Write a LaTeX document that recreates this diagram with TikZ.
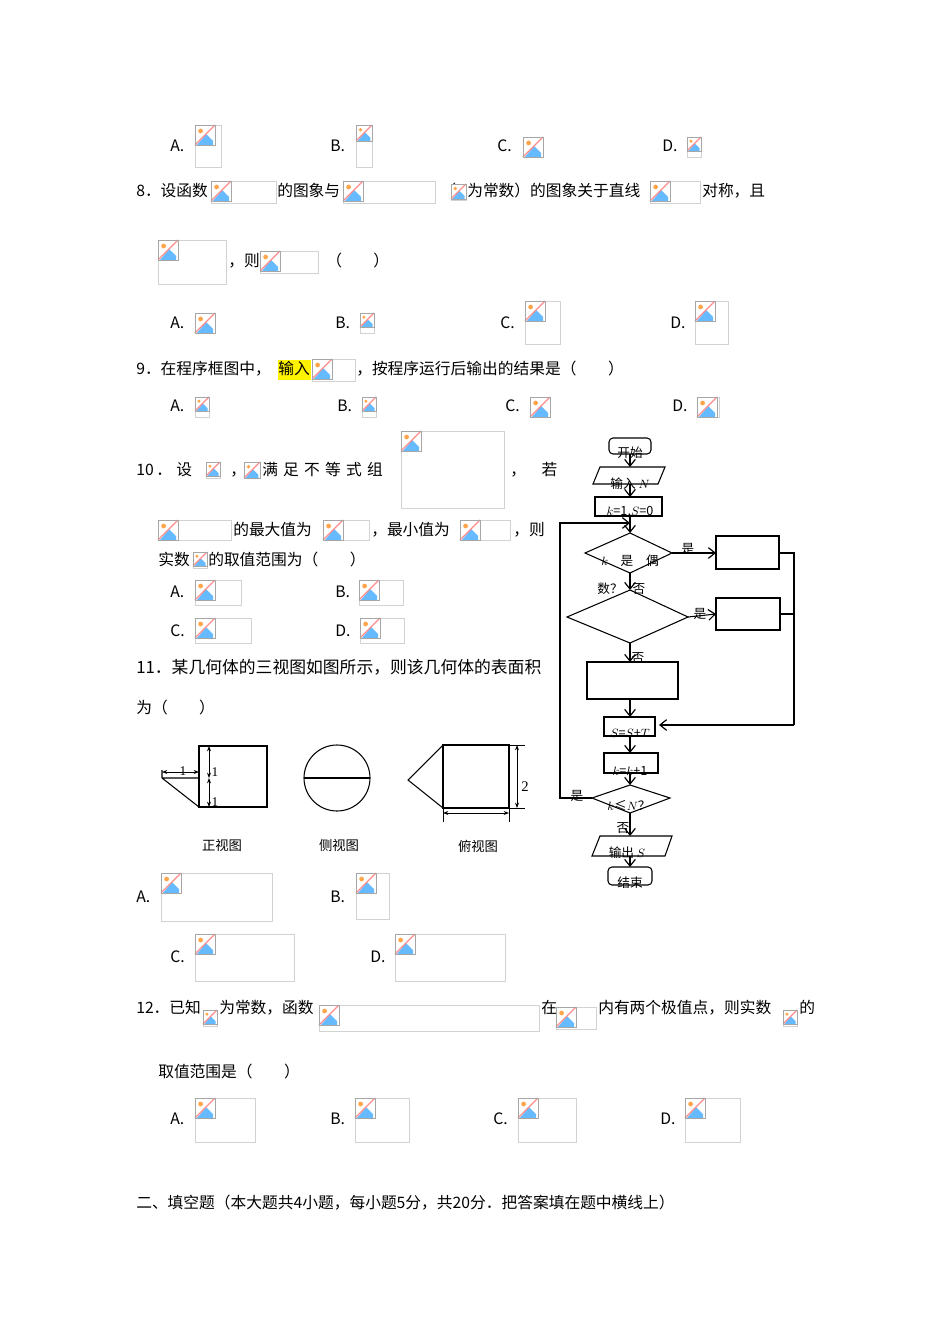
\documentclass[tikz,border=0pt]{standalone}
\usepackage{fontspec}
\newfontfamily\cjk{Noto Sans CJK SC}
\setmainfont{Liberation Serif}
\usetikzlibrary{arrows.meta,shapes.geometric}
\tikzset{
 tx/.style={anchor=base west,inner sep=0pt,font=\cjk\fontsize{11.8}{12}\selectfont},
 fc/.style={inner sep=0pt,font=\cjk\fontsize{9.5}{10}\selectfont},
 ln/.style={draw,line width=0.8pt},
 ar/.style={ln,-{Straight Barb[length=5pt,width=8pt,line width=0.9pt]}},
 dim/.style={line width=0.6pt,{Stealth[length=4pt]}-{Stealth[length=4pt]}},
}
\newcommand\phicon[3]{%
 \fill[white] (#1,#2) rectangle +(#3,#3);
 \fill[blue!45!cyan!60] (#1+0.1*#3,#2+#3) -- (#1+0.55*#3,#2+0.45*#3) -- (#1+0.9*#3,#2+0.8*#3) -- (#1+0.9*#3,#2+#3) -- cycle;
 \fill[orange!70] (#1+0.28*#3,#2+0.3*#3) circle (0.12*#3);
 \draw[red!45,line width=0.9pt] (#1,#2+#3) -- (#1+#3,#2);
 \draw[gray!70,line width=0.5pt] (#1,#2) rectangle +(#3,#3);}
\newcommand\ph[4]{%
 \draw[gray!35,line width=0.5pt] (#1,#2) rectangle +(#3,#4);
 \pgfmathsetmacro\phs{min(#3,min(#4,20))}%
 \phicon{#1}{#2}{\phs}}
\begin{document}
\begin{tikzpicture}[x=0.75pt,y=-0.75pt]
\useasboundingbox (0,0) rectangle (950,1344);
\fill[white] (0,0) rectangle (950,1344);
% row A-D
\node[tx] (a1) at (170,152) {A.}; \ph{195}{125}{26}{42}
\node[tx] (b1) at (330,152) {B.}; \ph{356}{125}{16}{42}
\node[tx] (c1) at (497,152) {C.}; \ph{523}{137}{20}{20}
\node[tx] (d1) at (662,152) {D.}; \ph{687}{137}{14}{20}
% Q8
\node[tx] (q8a) at (136,197) {8．设函数}; \ph{211}{181}{65}{22}
\node[tx] (q8b) at (277,197) {的图象与}; \ph{343}{181}{92}{22}
\node[tx] (q8c) at (440,197) {（}; \ph{451}{184}{15}{16}
\node[tx] (q8d) at (467,197) {为常数）的图象关于直线}; \ph{650}{181}{50}{22}
\node[tx] (q8e) at (702,197) {对称，且};
\ph{158}{240}{68}{44}
\node[tx] (q8f) at (228,267) {，则}; \ph{260}{251}{58}{22}
\node[tx] (q8g) at (326,267) {（　　）};
\node[tx] (a2) at (170,328) {A.}; \ph{195}{313}{20}{20}
\node[tx] (b2) at (335,328) {B.}; \ph{360}{313}{14}{20}
\node[tx] (c2) at (500,328) {C.}; \ph{525}{301}{35}{43}
\node[tx] (d2) at (670,328) {D.}; \ph{695}{301}{33}{43}
% Q9
\node[tx] (q9a) at (136,374) {9．在程序框图中，};
\fill[yellow] (278,360) rectangle (311,380);
\node[tx] (q9b) at (278,374) {输入}; \ph{312}{359}{43}{22}
\node[tx] (q9c) at (356,374) {，按程序运行后输出的结果是（　　）};
\node[tx] (a3) at (170,411) {A.}; \ph{195}{397}{14}{20}
\node[tx] (b3) at (337,411) {B.}; \ph{362}{397}{14}{20}
\node[tx] (c3) at (505,411) {C.}; \ph{530}{397}{20}{20}
\node[tx] (d3) at (672,411) {D.}; \ph{697}{397}{22}{20}
% Q10
\node[tx] (q10a) at (136,475) {10\,．\;设}; \ph{206}{462}{14}{16}
\node[tx] (q10b) at (230,475) {，}; \ph{244}{462}{16}{16}
\node[tx] (q10c) at (262,475) {满\,\,足\,\,不\,\,等\,\,式\,\,组}; \ph{401}{431}{103}{77}
\node[tx] (q10d) at (510,475) {，\quad 若};
\ph{158}{520}{73}{20}
\node[tx] (q10e) at (233,535) {的最大值为}; \ph{323}{520}{46}{20}
\node[tx] (q10f) at (371,535) {，最小值为}; \ph{460}{520}{50}{20}
\node[tx] (q10g) at (513,535) {，则};
\node[tx] (q10h) at (158,565) {实数}; \ph{193}{552}{14}{16}
\node[tx] (q10i) at (208,565) {的取值范围为（　　）};
\node[tx] (a4) at (170,597) {A.}; \ph{195}{580}{46}{25}
\node[tx] (b4) at (335,597) {B.}; \ph{359}{580}{44}{25}
\node[tx] (c4) at (170,636) {C.}; \ph{195}{618}{56}{25}
\node[tx] (d4) at (335,636) {D.}; \ph{360}{618}{44}{25}
% Q11
\node[tx,font=\cjk\fontsize{12.6}{13}\selectfont] (q11a) at (136,673) {11．某几何体的三视图如图所示，则该几何体的表面积};
\node[tx] (q11b) at (136,713) {为（　　）};
% front view
\draw[ln] (199,746) rectangle (267,807);
\draw[ln] (162,778) -- (199,778) (162,778) -- (199,807) (162,770) -- (162,778);
\draw[dim] (162,772) -- (199,772);
\draw[dim] (209,746) -- (209,778);
\draw[dim] (209,778) -- (209,807);
\node[fc,font=\fontsize{10}{10}\selectfont] (f1) at (183,771) {1};
\node[fc,font=\fontsize{10}{10}\selectfont] (f2) at (215,772) {1};
\node[fc,font=\fontsize{10}{10}\selectfont] (f3) at (215,802) {1};
% side view
\draw[ln] (337,778) circle (33);
\draw[ln] (304,778) -- (370,778);
% top view
\draw[ln] (443,745) rectangle (509,808);
\draw[ln] (443,745) -- (408,780) -- (443,808);
\draw[line width=0.5pt] (509,745) -- (525,745) (509,808) -- (525,808) (443,808) -- (443,822) (509,808) -- (509,822);
\draw[dim] (517,745) -- (517,808);
\draw[dim] (443,813) -- (509,813);
\node[fc,font=\fontsize{11}{11}\selectfont] (f4) at (525,787) {2};
\node[fc,font=\cjk\fontsize{10}{10}\selectfont] (v1) at (222,845) {正视图};
\node[fc,font=\cjk\fontsize{10}{10}\selectfont] (v2) at (339,845) {侧视图};
\node[fc,font=\cjk\fontsize{10}{10}\selectfont] (v3) at (478,846) {俯视图};
\node[tx] (a5) at (136,902) {A.}; \ph{161}{873}{111}{48}
\node[tx] (b5) at (330,902) {B.}; \ph{356}{873}{33}{46}
\node[tx] (c5) at (170,962) {C.}; \ph{195}{934}{99}{47}
\node[tx] (d5) at (370,962) {D.}; \ph{395}{934}{110}{47}
% Q12
\node[tx] (q12a) at (136,1013) {12．已知}; \ph{203}{1010}{14}{16}
\node[tx] (q12b) at (219,1013) {为常数，函数}; \ph{319}{1005}{220}{26}
\node[tx] (q12c) at (541,1013) {在}; \ph{556}{1007}{40}{22}
\node[tx] (q12d) at (598,1013) {内有两个极值点，则实数}; \ph{783}{1010}{14}{16}
\node[tx] (q12e) at (799,1013) {的};
\node[tx] (q12f) at (158,1077) {取值范围是（　　）};
\node[tx] (a6) at (170,1124) {A.}; \ph{195}{1098}{60}{44}
\node[tx] (b6) at (330,1124) {B.}; \ph{355}{1098}{54}{44}
\node[tx] (c6) at (493,1124) {C.}; \ph{518}{1098}{58}{44}
\node[tx] (d6) at (660,1124) {D.}; \ph{685}{1098}{55}{44}
\node[tx] (s2) at (136,1208) {二、填空题（本大题共4小题，每小题5分，共20分．把答案填在题中横线上）};
% flowchart
\draw[ln,rounded corners=3pt] (609,438) rectangle (651,454);
\draw[ln] (600,467) -- (665,467) -- (658,484) -- (593,484) -- cycle;
\draw[ln] (595,497) rectangle (662,516);
\draw[ln] (585,553) -- (630,533) -- (672,553) -- (630,573) -- cycle;
\draw[ln] (567,617) -- (630,590) -- (688,617) -- (630,643) -- cycle;
\draw[ln] (716,536) rectangle (779,569);
\draw[ln] (716,598) rectangle (780,630);
\draw[ln] (587,662) rectangle (678,699);
\draw[ln] (604,717) rectangle (655,736);
\draw[ln] (604,753) rectangle (658,773);
\draw[ln] (592,798) -- (630,785) -- (670,798) -- (630,813) -- cycle;
\draw[ln] (600,836) -- (672,836) -- (665,856) -- (592,856) -- cycle;
\draw[ln,rounded corners=3pt] (608,867) rectangle (652,885);
\coordinate (p1) at (630,454); \coordinate (p2) at (630,467);
\draw[ar] (p1) -- (p2);
\coordinate (p3) at (630,484); \coordinate (p4) at (630,497);
\draw[ar] (p3) -- (p4);
\coordinate (p5) at (630,516); \coordinate (p6) at (630,533);
\draw[ar] (p5) -- (p6);
\coordinate (p7) at (630,573); \coordinate (p8) at (630,590);
\draw[ar] (p7) -- (p8);
\coordinate (p9) at (630,643); \coordinate (p10) at (630,662);
\draw[ar] (p9) -- (p10);
\coordinate (p11) at (630,699); \coordinate (p12) at (630,717);
\draw[ar] (p11) -- (p12);
\coordinate (p13) at (630,736); \coordinate (p14) at (630,753);
\draw[ar] (p13) -- (p14);
\coordinate (p15) at (630,773); \coordinate (p16) at (630,785);
\draw[ar] (p15) -- (p16);
\coordinate (p17) at (630,813); \coordinate (p18) at (630,836);
\draw[ar] (p17) -- (p18);
\coordinate (p19) at (630,856); \coordinate (p20) at (630,867);
\draw[ar] (p19) -- (p20);
\coordinate (q1) at (672,553); \coordinate (q2) at (716,553);
\draw[ar] (q1) -- (q2);
\coordinate (q3) at (688,617); \coordinate (q4) at (716,614);
\draw[ar] (q3) -- (q4);
\coordinate (r1) at (779,553); \coordinate (r2) at (780,614);
\coordinate (r3) at (659,725);
\draw[ln] (r1) -- (794,553) -- (794,725);
\draw[ln] (r2) -- (794,614);
\draw[ar] (794,725) -- (r3);
\coordinate (l1) at (592,798); \coordinate (l2) at (630,523);
\draw[ar] (l1) -- (560,798) -- (560,523) -- (l2);
\node[fc] (t1) at (630,453) {开始};
\node[fc] (t2) at (630,484) {输入 $N$};
\node[fc] (t3) at (630,512) {$k$=1,$S$=0};
\node[fc] (t4) at (630,561) {$k$\quad 是\quad 偶};
\node[fc] (t5) at (610,589) {数？};
\node[fc] (t6) at (639,589) {否};
\node[fc] (t7) at (688,549) {是};
\node[fc] (t8) at (700,614) {是};
\node[fc] (t9) at (638,658) {否};
\node[fc] (t10) at (630,733) {$S$=$S$+$T$};
\node[fc] (t11) at (630,771) {$k$=$k$+1};
\node[fc] (t12) at (629,806) {$k$≤$N$？};
\node[fc] (t13) at (577,796) {是};
\node[fc] (t14) at (623,828) {否};
\node[fc] (t15) at (627,853) {输出 $S$};
\node[fc] (t16) at (630,883) {结束};
\end{tikzpicture}
\end{document}
